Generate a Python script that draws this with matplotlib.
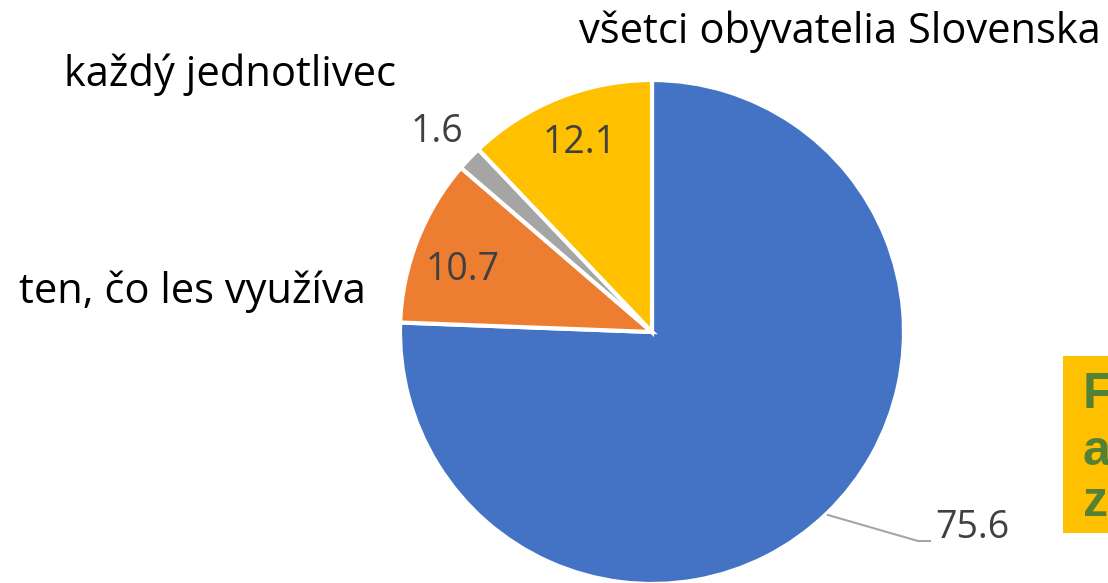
import matplotlib
matplotlib.use("Agg")
import matplotlib.pyplot as plt
from matplotlib.patches import Rectangle

values = [75.6, 10.7, 1.6, 12.1]
value_labels = ["75.6", "10.7", "1.6", "12.1"]
colors = ["#4472C4", "#ED7D31", "#A5A5A5", "#FFC000"]
category_texts = ["všetci obyvatelia Slovenska", "každý jednotlivec", "ten, čo les využíva"]
box_lines = ["F", "a", "z"]

W, H = 1108, 583
fig = plt.figure(figsize=(W / 100, H / 100), dpi=100)
ax = fig.add_axes([0, 0, 1, 1])

font = "Open Sans"
cx, cy, r = 652, H - 332, 252
ax.pie(values, colors=colors, startangle=90, counterclock=False,
       center=(cx, cy), radius=r, frame=True,
       wedgeprops=dict(edgecolor="white", linewidth=3))
ax.set_xlim(0, W)
ax.set_ylim(0, H)
ax.set_aspect("equal")
ax.axis("off")

lab_col = "#404040"
lfs = 27
ax.text(972, H - 528, value_labels[0], ha="center", va="center", fontsize=lfs, color=lab_col, family=font)
ax.text(463, H - 270, value_labels[1], ha="center", va="center", fontsize=lfs, color=lab_col, family=font)
ax.text(437, H - 132, value_labels[2], ha="center", va="center", fontsize=lfs, color=lab_col, family=font)
ax.text(580, H - 143, value_labels[3], ha="center", va="center", fontsize=lfs, color=lab_col, family=font)
ax.plot([828, 918, 930], [H - 515, H - 541, H - 541], color="#A5A5A5", lw=1.5)

cfs = 30
ax.text(840, H - 32, category_texts[0], ha="center", va="center", fontsize=cfs, color="black", family=font)
ax.text(230, H - 75, category_texts[1], ha="center", va="center", fontsize=cfs, color="black", family=font)
ax.text(192, H - 292, category_texts[2], ha="center", va="center", fontsize=cfs, color="black", family=font)

ax.add_patch(Rectangle((1063, H - 533), 60, 177, facecolor="#FFC000", edgecolor="none", clip_on=False))
ys = [390, 447, 498]
for t, y in zip(box_lines, ys):
    ax.text(1083, H - y, t, ha="left", va="center_baseline", fontsize=36, fontweight="bold",
            color="#538135", family="Liberation Sans")

fig.savefig("out.png", dpi=100)
